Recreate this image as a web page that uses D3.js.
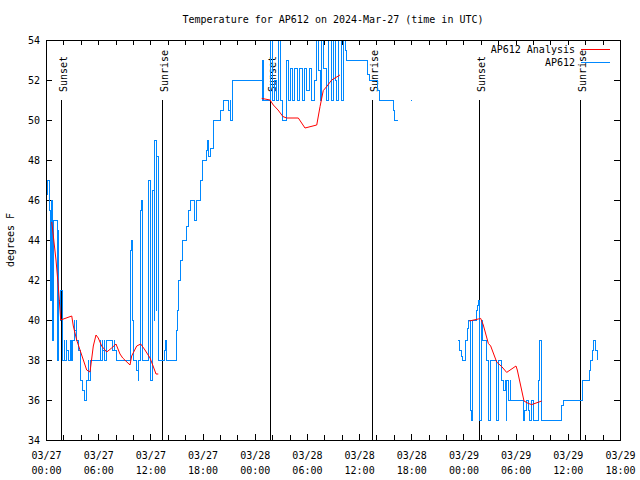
<!DOCTYPE html>
<html><head><meta charset="utf-8">
<script src="https://cdn.jsdelivr.net/npm/d3@7"></script>
<style>
body{margin:0;background:#fff}
text{font-family:"DejaVu Sans Mono",monospace;font-size:10px;fill:#000}
</style>
</head><body>
<svg id="c" width="640" height="480"></svg>
<script>
// ---- data (hours since 2024-03-27 00:00 UTC) ----
const titleText = "Temperature for AP612 on 2024-Mar-27 (time in UTC)";
const yLabel = "degrees F";
const seriesNames = ["AP612 Analysis", "AP612"];
const seriesColors = ["#ff0000", "#0088ff"];

const obsHours = [0.00,0.17,0.35,0.52,0.63,0.75,0.84,1.30,1.38,1.49,1.61,1.72,1.84,1.95,2.07,2.18,2.30,2.41,2.53,2.76,2.88,2.99,3.10,3.22,3.33,3.45,3.56,3.68,3.91,4.02,4.14,4.37,4.71,4.83,4.94,5.06,5.17,6.21,6.32,6.44,6.55,6.67,6.78,6.90,7.70,7.82,7.93,8.05,9.72,9.77,9.87,9.95,10.06,10.46,10.58,10.69,10.81,10.86,10.96,11.04,11.10,11.73,11.79,11.96,12.02,12.07,12.19,12.30,12.42,12.53,12.65,12.76,12.88,13.63,13.74,13.86,14.99,15.12,15.29,15.52,15.75,16.10,16.33,16.56,17.02,17.36,17.71,18.05,18.40,18.57,18.74,18.91,19.23,20.09,20.39,20.96,21.16,21.24,21.47,24.84,24.90,24.95,25.01,25.76,26.10,26.33,26.56,26.79,27.02,27.17,27.71,27.90,28.06,28.35,28.60,28.90,29.15,29.45,29.70,30.00,30.25,30.55,30.85,31.05,31.31,31.51,31.70,31.89,32.27,32.54,32.77,33.03,33.23,33.43,33.61,33.92,34.18,34.46,34.57,37.02,37.25,38.17,38.35,39.90,40.02,40.47,40.48,42.00,42.12,42.13,47.41,47.55,47.78,47.90,48.18,48.41,48.53,48.76,48.87,49.02,49.45,49.60,49.72,49.83,50.10,50.22,50.68,50.87,51.06,51.83,52.02,52.41,52.60,52.79,52.90,52.98,53.17,53.36,53.44,54.88,55.07,55.26,55.45,55.56,55.84,56.00,56.61,56.80,57.00,59.29,59.48,61.71,62.47,62.61,62.86,63.01,63.16,63.24,63.39];
const obsTemps = [46.3,47,45.5,41,46,39,45,38,44.5,41,40,41.5,38.5,38,39,38,39,38.5,38,39,38,38.5,39,40,39.5,40,39,38.5,38,37,36.5,36,37,38,37,37.5,38,39,38,39,38.5,39,38,39,38.5,39,38.5,38,40.5,43.5,44,40,38,37.5,37,38,40.5,45.5,46,42,38,42.5,47,42.5,38,37,38,46.5,40,49,40.5,48.2,38,38.5,39,38,39.5,40.5,42,43,44,44.7,45.5,46,45,46,47,48,48.5,49,48.2,48.6,50,50.5,51,50.5,51,50,52,53,51,53,51,54.5,51,52,51,54.5,51,50,53,51,52.6,51,52.6,51,52.6,51,52.6,51.5,52.6,51,52,54.5,52.5,51,54.5,52.6,51,54.5,51,54.5,52,51,54.5,51,54.5,53.5,53,52.3,52,51.5,51,50.5,50,50,null,51,51,null,39,38.5,38.2,38,39,39.6,40,35.5,35,40,40.5,40.75,41,35,40,39,38,35,38,35,38,37,36.5,37,35,37,36,37,36,35,35.5,36,35.5,35,36,35,37,39,35,35.75,36,37,37.5,38,38.5,39,38.8,38.5,38];

const anaHours = [0.66,1.15,1.41,1.53,1.69,2.96,3.14,3.53,3.91,4.68,5.06,5.44,5.75,6.01,6.40,6.98,7.55,8.05,8.51,8.82,9.66,9.85,10.43,10.89,11.38,11.96,12.27,12.65,12.91,13.0,24.80,25.76,26.14,26.68,27.25,27.68,29.01,29.78,31.13,31.51,31.88,32.27,32.85,33.80,33.9,48.67,49.71,49.98,50.28,50.86,51.13,51.82,52.40,52.97,54.04,54.19,54.96,55.45,55.84,57.00];
const anaTemps = [44.9,43,41.7,41,40,40.2,39.7,39,38.5,37.5,37.4,38.7,39.25,39.1,38.7,38.4,38.6,38.8,38.3,38.1,37.75,38.2,38.7,38.8,38.5,38.1,37.75,37.3,37.3,null,51.08,51.0,50.75,50.5,50.17,50.1,50.1,49.6,49.75,50.67,51.47,51.67,52,52.25,null,39.95,40.05,40.08,39.75,38.83,38.7,37.9,37.67,37.38,37.7,37.5,35.95,35.83,35.77,35.95];

const eventHours = [1.76,13.37,25.76,37.45,49.83,61.40];
const eventLabels = ["Sunset","Sunrise","Sunset","Sunrise","Sunset","Sunrise"];

const yTicks = [34,36,38,40,42,44,46,48,50,52,54];
const startMs = Date.UTC(2024,2,27,0,0);
const spanHours = 66;

// ---- layout ----
const W=640,H=480, L=46, R=620, T=40, B=440;
const toDate = h => new Date(startMs + h*3600e3);
const x = d3.scaleUtc().domain([toDate(0), toDate(spanHours)]).range([L,R]);
const y = d3.scaleLinear().domain([34,54]).range([B,T]);

const svg = d3.select("#c");
svg.append("rect").attr("width",W).attr("height",H).attr("fill","#fff");

svg.append("defs").append("clipPath").attr("id","clip")
  .append("rect").attr("x",L).attr("y",T).attr("width",R-L).attr("height",B-T);

svg.append("text").attr("x",(L+R)/2).attr("y",23).attr("text-anchor","middle").text(titleText);
svg.append("text").attr("transform","translate(14,"+((T+B)/2)+") rotate(-90)")
  .attr("text-anchor","middle").text(yLabel);

const minorTicks = d3.utcHour.every(2).range(toDate(0), toDate(spanHours+0.01));
const majorTicks = d3.utcHour.every(6).range(toDate(0), toDate(spanHours+0.01));
const fmtD = d3.utcFormat("%m/%d"), fmtT = d3.utcFormat("%H:%M");

function clean(g){ g.select(".domain").remove(); g.selectAll("line").attr("stroke","#000").attr("shape-rendering","crispEdges"); }

svg.append("g").attr("transform",`translate(0,${B})`)
  .call(d3.axisBottom(x).tickValues(minorTicks).tickSize(-5).tickFormat(""))
  .call(clean);
svg.append("g").attr("transform",`translate(0,${T})`)
  .call(d3.axisTop(x).tickValues(minorTicks).tickSize(-5).tickFormat(""))
  .call(clean);
const xl = svg.append("g").attr("transform",`translate(0,${B})`)
  .call(d3.axisBottom(x).tickValues(majorTicks).tickSize(-6).tickFormat(""))
  .call(clean);
xl.selectAll(".tick").each(function(d){
  const g=d3.select(this);
  g.select("text").remove();
  const t=g.append("text").attr("text-anchor","middle").attr("fill","#000");
  t.append("tspan").attr("x",0).attr("y",19).text(fmtD(d));
  t.append("tspan").attr("x",0).attr("y",34).text(fmtT(d));
});
svg.append("g").attr("transform",`translate(${L},0)`)
  .call(d3.axisLeft(y).tickValues(yTicks).tickSize(-6).tickPadding(6).tickFormat(d3.format("d")))
  .call(clean)
  .selectAll("text").style("font-family","'DejaVu Sans Mono',monospace").style("font-size","10px");
svg.append("g").attr("transform",`translate(${R},0)`)
  .call(d3.axisRight(y).tickValues(yTicks).tickSize(-6).tickFormat(""))
  .call(clean);

// sunrise/sunset markers
const ev = svg.append("g");
eventHours.forEach((h,i)=>{
  const xx = Math.round(x(toDate(h)))+0.5;
  ev.append("line").attr("x1",xx).attr("x2",xx).attr("y1",B).attr("y2",y(51))
    .attr("stroke","#000").attr("stroke-width",1).attr("shape-rendering","crispEdges");
  ev.append("text").attr("transform",`translate(${xx+5},${T+52}) rotate(-90)`)
    .attr("text-anchor","start").text(eventLabels[i]);
});

// series
const obs = obsHours.map((h,i)=>({t:toDate(h), v:obsTemps[i]}));
const ana = anaHours.map((h,i)=>({t:toDate(h), v:anaTemps[i]}));
const plot = svg.append("g").attr("clip-path","url(#clip)");
plot.append("path").datum(obs)
  .attr("d", d3.line().defined(d=>d.v!=null).x(d=>x(d.t)).y(d=>y(d.v)).curve(d3.curveStepAfter))
  .attr("fill","none").attr("stroke",seriesColors[1]).attr("stroke-width",1)
  .attr("shape-rendering","crispEdges");
plot.append("path").datum(ana)
  .attr("d", d3.line().defined(d=>d.v!=null).x(d=>x(d.t)).y(d=>y(d.v)))
  .attr("fill","none").attr("stroke",seriesColors[0]).attr("stroke-width",1);

svg.append("rect").attr("x",L).attr("y",T).attr("width",R-L).attr("height",B-T)
  .attr("fill","none").attr("stroke","#000").attr("shape-rendering","crispEdges");

// legend
seriesNames.forEach((n,i)=>{
  const yy = 53 + i*13;
  svg.append("text").attr("x",575).attr("y",yy).attr("text-anchor","end").text(n);
  svg.append("line").attr("x1",581).attr("x2",610).attr("y1",yy-3.5).attr("y2",yy-3.5)
    .attr("stroke",seriesColors[i]).attr("stroke-width",1);
});
</script>
</body></html>
